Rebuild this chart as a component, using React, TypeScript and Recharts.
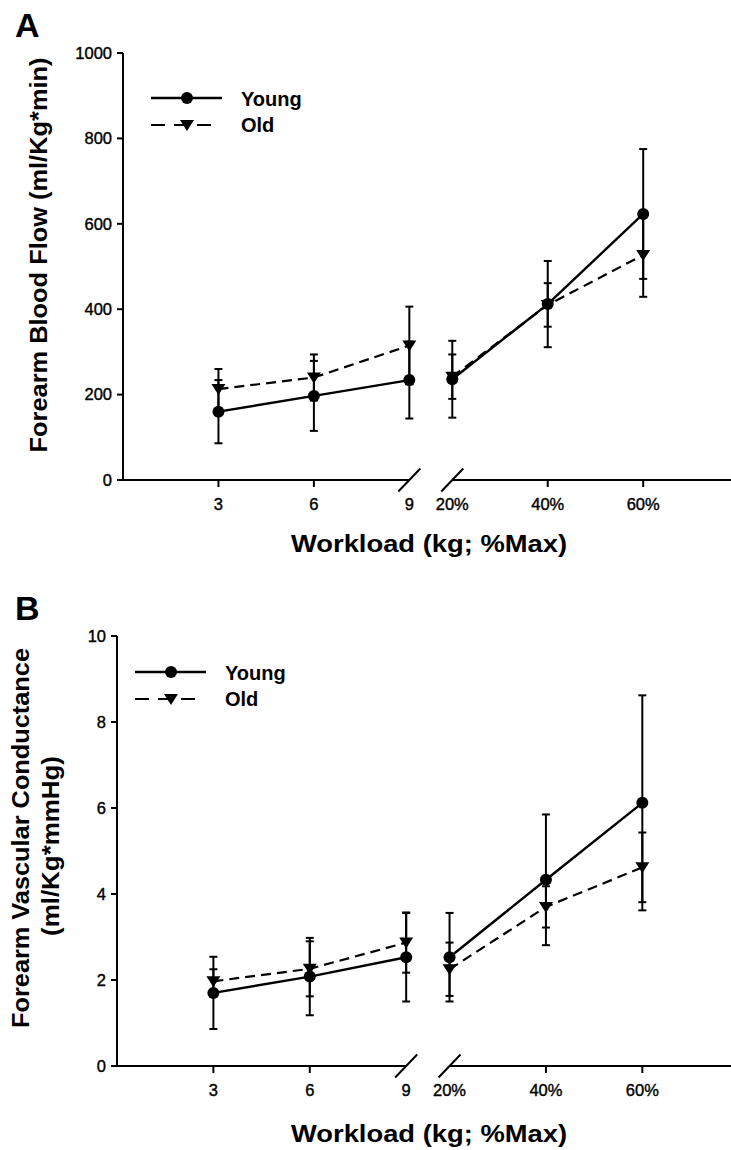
import { ErrorBar, Line, LineChart, XAxis, YAxis } from "recharts";

const workloads = ["3", "6", "9", "20%", "40%", "60%"];
const seriesNames = ["Young", "Old"];

// A: forearm blood flow (ml/Kg*min), mean and error
const flowYoung = [160, 197, 234, 236, 412, 623];
const flowYoungErr = [74, 82, 90, 90, 101, 152];
const flowOld = [213, 240, 315, 242, 410, 527];
const flowOldErr = [47, 54, 91, 52, 51, 98];
const flowTicks = [0, 200, 400, 600, 800, 1000];

// B: forearm vascular conductance (ml/Kg*mmHg)
const fvcYoung = [1.7, 2.08, 2.53, 2.53, 4.33, 6.12];
const fvcYoungErr = [0.84, 0.9, 1.03, 1.03, 1.52, 2.5];
const fvcOld = [1.97, 2.26, 2.87, 2.25, 3.7, 4.62];
const fvcOldErr = [0.28, 0.64, 0.7, 0.62, 0.48, 0.81];
const fvcTicks = [0, 2, 4, 6, 8, 10];

// kg loads sit at 1..3, %Max loads after the axis break
const slotOf = (i: number) => (i < 3 ? i + 1 : i + 0.45);
const slots = workloads.map((_, i) => slotOf(i));

type Pt = { x: number; v: number; e: number };
function segment(values: number[], errs: number[], from: number, to: number): Pt[] {
  return values.slice(from, to).map((v, k) => ({ x: slotOf(from + k), v, e: errs[from + k] }));
}

const TICK_SIZE = 7;
const TICK_MARGIN = 11;
const FONT = "'Liberation Sans', Arial, sans-serif";

function WorkloadTick(props: any) {
  const { x, y, index } = props;
  const axisY = y - TICK_SIZE - TICK_MARGIN;
  const isBreak = index === 2 || index === 3;
  return (
    <g>
      {!isBreak && (
        <line x1={x} x2={x} y1={axisY} y2={axisY + TICK_SIZE} stroke="#000" strokeWidth={2} />
      )}
      {index === 2 && <rect x={x} y={axisY - 3} width={22} height={6} fill="#fff" />}
      {index === 3 && <rect x={x - 22} y={axisY - 3} width={22} height={6} fill="#fff" />}
      {isBreak && (
        <line x1={x - 11} y1={axisY + 11.5} x2={x + 11} y2={axisY - 11.5} stroke="#000" strokeWidth={2} />
      )}
      <text
        x={x}
        y={y}
        dy="0.71em"
        textAnchor="middle"
        fontSize={16.5}
        fill="#000"
        stroke="#000"
        strokeWidth={0.4}
        fontFamily={FONT}
      >
        {workloads[index]}
      </text>
    </g>
  );
}

function ValueTick(props: any) {
  const { x, y, payload } = props;
  return (
    <text
      x={x}
      y={y}
      dy="0.35em"
      textAnchor="end"
      fontSize={16.5}
      fill="#000"
      stroke="#000"
      strokeWidth={0.4}
      fontFamily={FONT}
    >
      {payload.value}
    </text>
  );
}

function Triangle(props: any) {
  const { cx, cy } = props;
  if (cx == null || cy == null) return null;
  return <path d={`M${cx - 7},${cy - 5} L${cx + 7},${cy - 5} L${cx},${cy + 6} Z`} fill="#000" />;
}

function Legend2({ x, y }: { x: number; y: number }) {
  return (
    <g fontFamily={FONT} fontWeight="bold" fontSize={20}>
      <line x1={x} x2={x + 71} y1={y} y2={y} stroke="#000" strokeWidth={2.4} />
      <circle cx={x + 36} cy={y} r={6} fill="#000" />
      <text x={x + 90} y={y + 8}>{seriesNames[0]}</text>
      <line x1={x} x2={x + 66} y1={y + 27} y2={y + 27} stroke="#000" strokeWidth={2.2} strokeDasharray="14 9" />
      <Triangle cx={x + 36} cy={y + 27} />
      <text x={x + 90} y={y + 34}>{seriesNames[1]}</text>
    </g>
  );
}

type PanelProps = {
  letter: string;
  young: number[];
  youngErr: number[];
  old: number[];
  oldErr: number[];
  yTicks: number[];
  top: number;
  plotTop: number;
  plotLeft: number;
  plotHeight: number;
  titleLines: { text: string; x: number; cy: number; len: number }[];
  legendAt: { x: number; y: number };
  xTitleY: number;
  letterY: number;
};

function Panel(p: PanelProps) {
  const H = 575;
  const segs = [
    [0, 3],
    [3, 6],
  ];
  return (
    <div style={{ position: "absolute", left: 0, top: p.top, width: 731, height: H }}>
      <LineChart width={731} height={H} margin={{ top: p.plotTop, right: 0, bottom: 0, left: 0 }}>
        <XAxis
          type="number"
          dataKey="x"
          domain={[0, 6.37]}
          ticks={slots}
          interval={0}
          allowDataOverflow
          height={H - p.plotTop - p.plotHeight}
          axisLine={{ stroke: "#000", strokeWidth: 2 }}
          tickLine={false}
          tickSize={TICK_SIZE}
          tickMargin={TICK_MARGIN}
          tick={(t: any) => <WorkloadTick {...t} />}
        />
        <YAxis
          type="number"
          domain={[p.yTicks[0], p.yTicks[p.yTicks.length - 1]]}
          ticks={p.yTicks}
          interval={0}
          width={p.plotLeft}
          axisLine={{ stroke: "#000", strokeWidth: 2 }}
          tickLine={{ stroke: "#000", strokeWidth: 2 }}
          tickSize={6}
          tickMargin={5}
          tick={(t: any) => <ValueTick {...t} />}
        />
        {segs.map(([a, b]) => (
          <Line
            key={`old-${a}`}
            data={segment(p.old, p.oldErr, a, b)}
            dataKey="v"
            stroke="#000"
            strokeWidth={2.2}
            strokeDasharray="10 6"
            dot={(d: any) => <Triangle key={`o${a}-${d.index}`} {...d} />}
            activeDot={false}
            isAnimationActive={false}
          >
            <ErrorBar dataKey="e" direction="y" width={4} stroke="#000" strokeWidth={2} />
          </Line>
        ))}
        {segs.map(([a, b]) => (
          <Line
            key={`young-${a}`}
            data={segment(p.young, p.youngErr, a, b)}
            dataKey="v"
            stroke="#000"
            strokeWidth={2.4}
            dot={{ r: 6, fill: "#000", stroke: "#000", strokeWidth: 0 }}
            activeDot={false}
            isAnimationActive={false}
          >
            <ErrorBar dataKey="e" direction="y" width={4} stroke="#000" strokeWidth={2} />
          </Line>
        ))}
      </LineChart>
      <svg
        width={731}
        height={H}
        style={{ position: "absolute", left: 0, top: 0, pointerEvents: "none" }}
        fontFamily={FONT}
      >
        <text x={15} y={p.letterY} fontSize={34} fontWeight="bold">
          {p.letter}
        </text>
        {p.titleLines.map((t) => (
          <text
            key={t.text}
            transform={`translate(${t.x},${t.cy}) rotate(-90)`}
            textAnchor="middle"
            fontSize={24}
            fontWeight="bold"
            textLength={t.len}
            lengthAdjust="spacingAndGlyphs"
          >
            {t.text}
          </text>
        ))}
        <text
          x={429}
          y={p.xTitleY}
          textAnchor="middle"
          fontSize={23}
          fontWeight="bold"
          textLength={276}
          lengthAdjust="spacingAndGlyphs"
        >
          Workload (kg; %Max)
        </text>
        <Legend2 x={p.legendAt.x} y={p.legendAt.y} />
      </svg>
    </div>
  );
}

export default function App() {
  return (
    <div
      style={{
        position: "absolute",
        left: 0,
        top: 0,
        width: 731,
        height: 1150,
        background: "#fff",
        fontFamily: FONT,
      }}
    >
      <Panel
        letter="A"
        young={flowYoung}
        youngErr={flowYoungErr}
        old={flowOld}
        oldErr={flowOldErr}
        yTicks={flowTicks}
        top={0}
        plotTop={53}
        plotLeft={123}
        plotHeight={427}
        titleLines={[{ text: "Forearm Blood Flow (ml/Kg*min)", x: 47, cy: 255, len: 395 }]}
        legendAt={{ x: 151, y: 98 }}
        xTitleY={552}
        letterY={37}
      />
      <Panel
        letter="B"
        young={fvcYoung}
        youngErr={fvcYoungErr}
        old={fvcOld}
        oldErr={fvcOldErr}
        yTicks={fvcTicks}
        top={575}
        plotTop={61}
        plotLeft={117}
        plotHeight={430}
        titleLines={[
          { text: "Forearm Vascular Conductance", x: 29, cy: 263, len: 380 },
          { text: "(ml/Kg*mmHg)", x: 59, cy: 271, len: 180 },
        ]}
        legendAt={{ x: 135, y: 97 }}
        xTitleY={567}
        letterY={45}
      />
    </div>
  );
}
